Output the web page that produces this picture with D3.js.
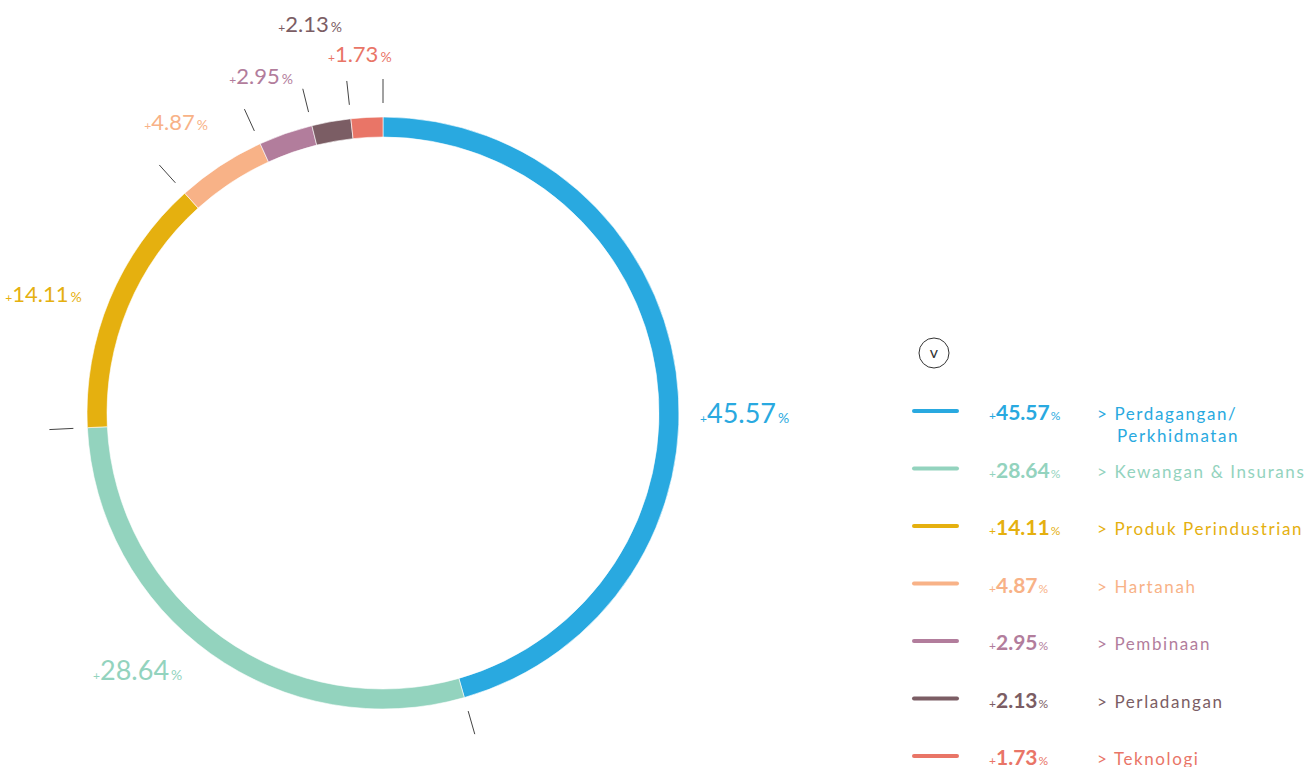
<!DOCTYPE html>
<html>
<head>
<meta charset="utf-8">
<script src="https://cdn.jsdelivr.net/npm/d3@7"></script>
<style>
  body { margin: 0; background: #fff; }
  svg { display: block; font-family: "Lato", "Noto Sans", sans-serif; }
</style>
</head>
<body>
<div id="chart"></div>
<script>
// sector data
var sectors = ["Perdagangan/Perkhidmatan", "Kewangan & Insurans", "Produk Perindustrian",
    "Hartanah", "Pembinaan", "Perladangan", "Teknologi"];
var shares = [45.57, 28.64, 14.11, 4.87, 2.95, 2.13, 1.73];
var colours = ["#29a9e0", "#93d3be", "#e5b00f", "#f8b287", "#b27d9c", "#7b5d64", "#e97567"];

var svgWidth = 1310;
var svgHeight = 767;

var cx = 383, cy = 413;
var outerR = 296, innerR = 276;

// label placement around the ring (angle in deg from top)
var labelLayout = [
    { angle: 90, r: 317, anchor: "start" },
    { angle: 218, r: 326, anchor: "end" },
    { angle: 291.6, r: 324, anchor: "end" },
    { angle: 324.6, r: 357, anchor: "middle" },
    { angle: 340.1, r: 358, anchor: "middle" },
    { angle: 349.4, r: 396, anchor: "middle" },
    { angle: 356.3, r: 360, anchor: "middle" }
];

var svg = d3.select("#chart")
    .append("svg")
    .attr("width", svgWidth)
    .attr("height", svgHeight);

var data = sectors.map(function(s, i) {
    return { name: s, value: shares[i], colour: colours[i] };
});

var pie = d3.pie()
    .sort(null)
    .value(d => d.value);

var arcs = pie(data);

var arc = d3.arc()
    .innerRadius(innerR)
    .outerRadius(outerR);

var ring = svg.append("g")
    .attr("transform", `translate(${cx}, ${cy})`);

ring.selectAll("path")
    .data(arcs)
    .enter()
    .append("path")
    .attr("d", arc)
    .attr("fill", d => d.data.colour)
    .attr("stroke", "#fff")
    .attr("stroke-width", 0.6);

// small ticks at every slice boundary
ring.selectAll("line.tick")
    .data(arcs)
    .enter()
    .append("line")
    .attr("class", "tick")
    .attr("x1", d => 310 * Math.sin(d.startAngle))
    .attr("y1", d => -310 * Math.cos(d.startAngle))
    .attr("x2", d => 334 * Math.sin(d.startAngle))
    .attr("y2", d => -334 * Math.cos(d.startAngle))
    .attr("stroke", "#444")
    .attr("stroke-width", 1);

var labelSize = d3.scaleThreshold()
    .domain([20])
    .range([22, 27]);

arcs.forEach(function(d, i) {
    var lay = labelLayout[i];
    var a = lay.angle * Math.PI / 180;
    var fs = labelSize(d.value);
    var x = lay.r * Math.sin(a);
    var y = -lay.r * Math.cos(a) + fs * 0.36;
    var t = ring.append("text")
        .attr("x", x)
        .attr("y", y)
        .attr("text-anchor", lay.anchor)
        .attr("fill", d.data.colour)
        .style("font-weight", 400);
    t.append("tspan").attr("font-size", 12).text("+");
    t.append("tspan").attr("font-size", fs).text(d.value.toFixed(2));
    t.append("tspan").attr("font-size", 14).attr("dx", 2).text("%");
});

// legend
var legend = svg.append("g");

legend.append("circle")
    .attr("cx", 934)
    .attr("cy", 353)
    .attr("r", 15)
    .attr("fill", "none")
    .attr("stroke", "#333")
    .attr("stroke-width", 1);

legend.append("text")
    .attr("x", 934)
    .attr("y", 358)
    .attr("text-anchor", "middle")
    .attr("font-size", 16)
    .attr("fill", "#333")
    .text("v");

var rowY = d3.scalePoint()
    .domain(sectors)
    .range([411, 756]);

var rows = legend.selectAll("g.row")
    .data(data)
    .enter()
    .append("g")
    .attr("class", "row")
    .attr("transform", d => `translate(0, ${rowY(d.name)})`);

rows.append("line")
    .attr("x1", 914)
    .attr("x2", 957)
    .attr("stroke", d => d.colour)
    .attr("stroke-width", 4)
    .attr("stroke-linecap", "round");

var pct = rows.append("text")
    .attr("x", 989)
    .attr("y", 9)
    .attr("fill", d => d.colour);
pct.append("tspan").attr("font-size", 12).text("+");
pct.append("tspan").attr("font-size", 21).attr("font-weight", 700).text(d => d.value.toFixed(2));
pct.append("tspan").attr("font-size", 12).attr("dx", 1).text("%");

rows.append("text")
    .attr("x", 1097)
    .attr("y", 9)
    .attr("font-size", 17)
    .attr("letter-spacing", 1.6)
    .attr("fill", d => d.colour)
    .each(function(d) {
        var parts = d.name.indexOf("/") > 0 ? [d.name.split("/")[0] + "/", d.name.split("/")[1]] : [d.name];
        var el = d3.select(this);
        el.append("tspan").text("> " + parts[0]);
        if (parts.length > 1) {
            el.append("tspan").attr("x", 1117).attr("dy", 22).text(parts[1]);
        }
    });
</script>
</body>
</html>
